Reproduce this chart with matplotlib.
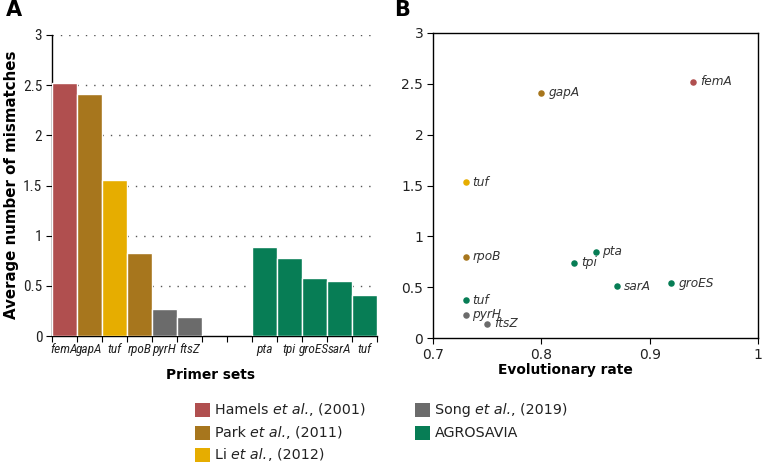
import matplotlib
matplotlib.use("Agg")
import matplotlib.pyplot as plt
from matplotlib.patches import Rectangle
from matplotlib.ticker import FuncFormatter, FixedLocator

# ---- data ----
bar_labels_left = ["femA", "gapA", "tuf", "rpoB", "pyrH", "ftsZ"]
bar_values_left = [2.525, 2.41, 1.55, 0.83, 0.27, 0.19]
bar_groups_left = ["Hamels", "Park", "Li", "Park", "Song", "Song"]

bar_labels_right = ["pta", "tpi", "groES", "sarA", "tuf"]
bar_values_right = [0.885, 0.775, 0.58, 0.55, 0.41]
bar_groups_right = ["AGROSAVIA"] * 5

sc_labels = ["femA", "gapA", "tuf", "rpoB", "tuf", "pyrH", "ftsZ", "pta", "tpi", "sarA", "groES"]
sc_rate = [0.94, 0.80, 0.73, 0.73, 0.73, 0.73, 0.75, 0.85, 0.83, 0.87, 0.92]
sc_mism = [2.52, 2.41, 1.53, 0.80, 0.37, 0.23, 0.14, 0.85, 0.74, 0.51, 0.54]
sc_groups = ["Hamels", "Park", "Li", "Park", "AGROSAVIA", "Song", "Song",
             "AGROSAVIA", "AGROSAVIA", "AGROSAVIA", "AGROSAVIA"]

group_keys = ["Hamels", "Park", "Li", "Song", "AGROSAVIA"]
group_colors = {"Hamels": "#B04F4F", "Park": "#A7761D", "Li": "#E6AD00",
                "Song": "#6B6B6B", "AGROSAVIA": "#077D55"}
# legend label parts: (plain, italic, plain)
legend_parts = {"Hamels": ("Hamels ", "et al.", ", (2001)"),
                "Park": ("Park ", "et al.", ", (2011)"),
                "Li": ("Li ", "et al.", ", (2012)"),
                "Song": ("Song ", "et al.", ", (2019)"),
                "AGROSAVIA": ("AGROSAVIA", "", "")}

plt.rcParams['font.family'] = ['DejaVu Sans']
narrow = ["Roboto Condensed", "Archivo Narrow", "Liberation Sans"]

W, H = 762, 463
fig = plt.figure(figsize=(W / 100, H / 100), dpi=100)

def fx(px):
    return px / W

def fy(py):
    return 1 - py / H

# ---- Panel A ----
axA = fig.add_axes([fx(52), fy(336), fx(377) - fx(52), fy(35) - fy(336)])
gap = 2
pos_left = list(range(len(bar_labels_left)))
pos_right = [len(bar_labels_left) + gap + i for i in range(len(bar_labels_right))]
n_slots = len(bar_labels_left) + gap + len(bar_labels_right)

axA.bar(pos_left, bar_values_left, width=1.0,
        color=[group_colors[g] for g in bar_groups_left],
        edgecolor="white", linewidth=1.0, zorder=3)
axA.bar(pos_right, bar_values_right, width=1.0,
        color=[group_colors[g] for g in bar_groups_right],
        edgecolor="white", linewidth=1.0, zorder=3)
axA.set_xlim(-0.5, n_slots - 0.5)
axA.set_ylim(0, 3)
axA.set_yticks([0, 0.5, 1, 1.5, 2, 2.5, 3])
fmt = FuncFormatter(lambda v, p: ("%g" % v))
axA.yaxis.set_major_formatter(fmt)
axA.set_xticks(pos_left + pos_right)
axA.set_xticklabels(bar_labels_left + bar_labels_right)
for t in axA.get_xticklabels():
    t.set_fontfamily(narrow)
    t.set_fontstyle("italic")
    t.set_fontsize(9.6)
    t.set_color("#222222")
for t in axA.get_yticklabels():
    t.set_fontfamily(narrow)
    t.set_fontsize(11)
    t.set_color("#222222")
axA.tick_params(axis="x", which="major", length=0, pad=5)
axA.xaxis.set_minor_locator(FixedLocator([i - 0.5 for i in range(n_slots + 1)]))
axA.tick_params(axis="x", which="minor", length=4, width=0.8, direction="out")
axA.tick_params(axis="y", length=4, width=0.8, pad=3)
for v in [0.5, 1, 1.5, 2, 2.5, 3]:
    axA.axhline(v, color="#555555", linestyle=(0, (1, 5)), linewidth=1.0, zorder=1)
for s in ["top", "right"]:
    axA.spines[s].set_visible(False)
axA.spines["left"].set_linewidth(1.0)
axA.spines["bottom"].set_linewidth(1.0)
fig.text(fx(12), fy(185), "Average number of mismatches", fontsize=10.8,
         fontweight="bold", rotation=90, ha="center", va="center")

# ---- Panel B ----
axB = fig.add_axes([fx(433), fy(338), fx(758) - fx(433), fy(33) - fy(338)])
for x, y, lab, g in zip(sc_rate, sc_mism, sc_labels, sc_groups):
    axB.scatter([x], [y], s=22, color=group_colors[g], zorder=3, linewidths=0)
    axB.annotate(lab, (x, y), xytext=(5, 0), textcoords="offset points",
                 va="center", ha="left", fontstyle="italic", fontsize=8.7, color="#333333")
axB.set_xlim(0.7, 1.0)
axB.set_ylim(0, 3)
axB.set_xticks([0.7, 0.8, 0.9, 1.0])
axB.set_yticks([0, 0.5, 1, 1.5, 2, 2.5, 3])
axB.xaxis.set_major_formatter(fmt)
axB.yaxis.set_major_formatter(fmt)
axB.tick_params(axis="both", length=4, width=0.8, labelsize=10, pad=3, labelcolor="#222222")
for s in axB.spines.values():
    s.set_linewidth(1.0)

# ---- axis titles ----
fig.text(fx(211), fy(375), "Primer sets", fontsize=9.9, fontweight="bold", ha="center", va="center")
fig.text(fx(565), fy(370), "Evolutionary rate", fontsize=9.9, fontweight="bold", ha="center", va="center")

# ---- panel letters ----
fig.text(fx(6), fy(10), "A", fontsize=15, fontweight="bold", ha="left", va="center")
fig.text(fx(394), fy(10), "B", fontsize=15, fontweight="bold", ha="left", va="center")

# ---- legend (manual, to allow mixed italic) ----
renderer = fig.canvas.get_renderer()
leg_cols = [195, 415]
leg_rows = [410, 433, 455]
slots = [(0, 0), (0, 1), (0, 2), (1, 0), (1, 1)]
for key, (c, r) in zip(group_keys, slots):
    x0 = leg_cols[c]
    yc = leg_rows[r]
    fig.patches.append(Rectangle((fx(x0), fy(yc + 7)), fx(15), fy(0) - fy(14),
                                 transform=fig.transFigure, facecolor=group_colors[key],
                                 edgecolor="none"))
    xcur = fx(x0 + 20)
    for part, style in zip(legend_parts[key], ["normal", "italic", "normal"]):
        if not part:
            continue
        t = fig.text(xcur, fy(yc), part, fontsize=10.3, fontstyle=style, ha="left",
                     va="center", color="#222222")
        bb = t.get_window_extent(renderer=renderer)
        xcur = bb.x1 / W

fig.savefig("out.png", dpi=100)
